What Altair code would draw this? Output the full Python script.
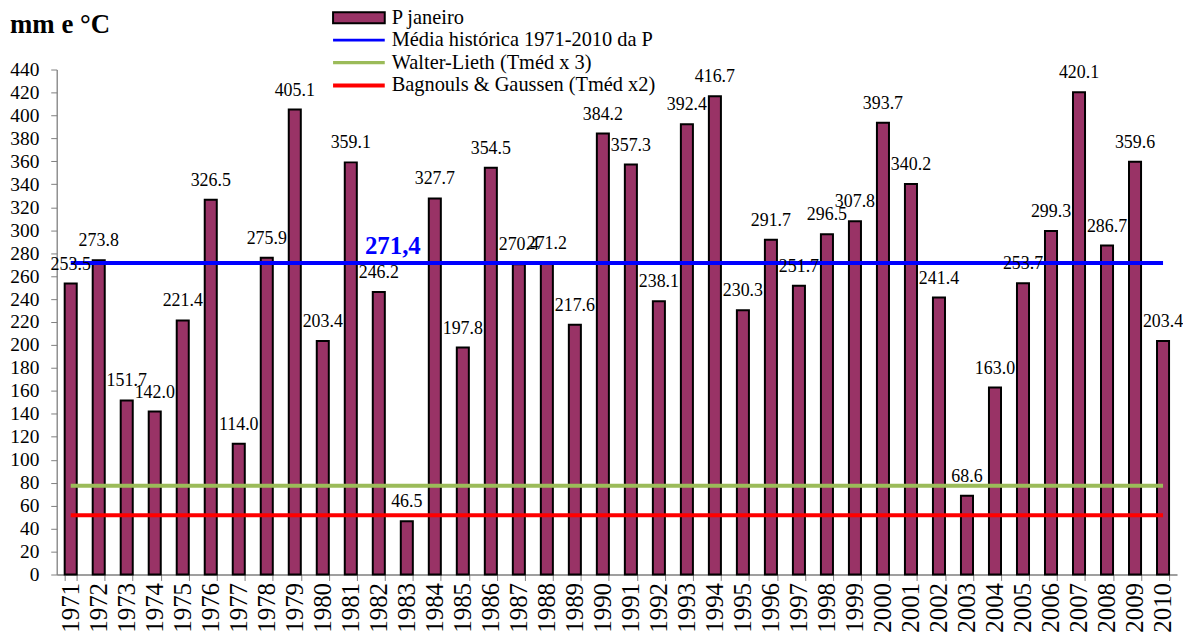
import altair as alt
import pandas as pd

years = [str(y) for y in range(1971, 2011)]
precip = [253.5, 273.8, 151.7, 142.0, 221.4, 326.5, 114.0, 275.9, 405.1, 203.4,
          359.1, 246.2, 46.5, 327.7, 197.8, 354.5, 270.4, 271.2, 217.6, 384.2,
          357.3, 238.1, 392.4, 416.7, 230.3, 291.7, 251.7, 296.5, 307.8, 393.7,
          340.2, 241.4, 68.6, 163.0, 253.7, 299.3, 420.1, 286.7, 359.6, 203.4]

mean_value = 271.4
mean_text = "271,4"
walter_value = 77.4
bagnouls_value = 51.6
unit_title = "mm e °C"

series_names = ["P janeiro", "Média histórica 1971-2010 da P",
                "Walter-Lieth (Tméd x 3)", "Bagnouls & Gaussen (Tméd x2)"]
series_fill = ["#993366", "#0000FF", "#9BBB59", "#FF0000"]
series_stroke = ["#000000", "#0000FF", "#9BBB59", "#FF0000"]
series_width = [2, 4, 4, 4]
series_shape = ["M-1,-0.55H4.2V0.55H-1Z", "M-1,0H4.2", "M-1,0H4.2", "M-1,0H4.2"]
y_ticks = list(range(0, 441, 20))

FONT = "Liberation Serif"

bars_df = pd.DataFrame({
    "year": years,
    "P": precip,
    "label": [f"{v:.1f}" for v in precip],
})

line_values = [mean_value, walter_value, bagnouls_value]
lines_df = pd.DataFrame([
    {"year": y, "series": s, "value": v}
    for s, v in zip(series_names[1:], line_values)
    for y in years
])

mean_df = pd.DataFrame({"year": ["1982"], "value": [mean_value], "text": [mean_text]})
legend_df = pd.DataFrame({"series": series_names})
title_df = pd.DataFrame({"text": [unit_title]})

x_enc = alt.X("year:N", sort=years, title=None,
              scale=alt.Scale(paddingInner=0.57, paddingOuter=0.285),
              axis=alt.Axis(tickBand="extent", labelAngle=270, labelPadding=2,
                            labelFontSize=25, labelFont=FONT))
y_scale = alt.Scale(domain=[0, 440], nice=False, zero=True)
y_axis = alt.Axis(values=y_ticks, labelPadding=12, labelFontSize=19.5, labelFont=FONT)

bars = alt.Chart(bars_df).mark_bar(fill="#993366", stroke="black", strokeWidth=2).encode(
    x=x_enc,
    y=alt.Y("P:Q", scale=y_scale, axis=y_axis, title=None),
)

labels = alt.Chart(bars_df).mark_text(
    font=FONT, fontSize=18, fontWeight="normal", color="black",
    baseline="alphabetic", dy=-14
).encode(
    x=x_enc,
    y=alt.Y("P:Q", scale=y_scale, axis=y_axis, title=None),
    text="label:N",
)

lines = alt.Chart(lines_df).mark_line(strokeWidth=4).encode(
    x=x_enc,
    y=alt.Y("value:Q", scale=y_scale, axis=y_axis, title=None),
    color=alt.Color("series:N", legend=None,
                    scale=alt.Scale(domain=series_names[1:], range=series_stroke[1:])),
)

mean_label = alt.Chart(mean_df).mark_text(
    font=FONT, fontSize=25, fontWeight="bold", color="#0000FF",
    align="left", baseline="alphabetic", dx=-14, dy=-9
).encode(
    x=x_enc,
    y=alt.Y("value:Q", scale=y_scale, axis=y_axis, title=None),
    text="text:N",
)

title_mark = alt.Chart(title_df).mark_text(
    font=FONT, fontSize=27, fontWeight="bold", color="black",
    align="left", baseline="alphabetic"
).encode(
    x=alt.value(-47),
    y=alt.value(-37),
    text="text:N",
)

leg = dict(title=None, orient="none", legendX=276, legendY=-63, symbolOpacity=1,
           symbolSize=400, labelFont=FONT, labelFontSize=20.5, labelFontWeight="normal",
           labelColor="black", labelLimit=0, rowPadding=-1.5, labelOffset=37)

dummy = alt.Chart(legend_df).mark_point(opacity=0, filled=True, size=400).encode(
    fill=alt.Fill("series:N", sort=series_names,
                  scale=alt.Scale(domain=series_names, range=series_fill),
                  legend=alt.Legend(**leg)),
    stroke=alt.Stroke("series:N", sort=series_names,
                      scale=alt.Scale(domain=series_names, range=series_stroke),
                      legend=alt.Legend(**leg)),
    shape=alt.Shape("series:N", sort=series_names,
                    scale=alt.Scale(domain=series_names, range=series_shape),
                    legend=alt.Legend(**leg)),
    strokeWidth=alt.StrokeWidth("series:N", sort=series_names,
                                scale=alt.Scale(domain=series_names, range=series_width),
                                legend=alt.Legend(**leg)),
)

chart = alt.layer(bars, lines, labels, mean_label, title_mark, dummy).properties(
    width=1127,
    height=508,
    autosize=alt.AutoSizeParams(type="none"),
    padding={"left": 49, "top": 60, "right": 6, "bottom": 67},
).configure(font=FONT).configure_view(stroke=None).configure_axis(
    grid=False, domainColor="#7f7f7f", tickColor="#7f7f7f", tickSize=6,
    labelColor="black", domainWidth=1.3,
).configure_text(font=FONT).configure_legend(labelFont=FONT)

chart.save("out.html", embed_options={"renderer": "svg", "actions": False})
